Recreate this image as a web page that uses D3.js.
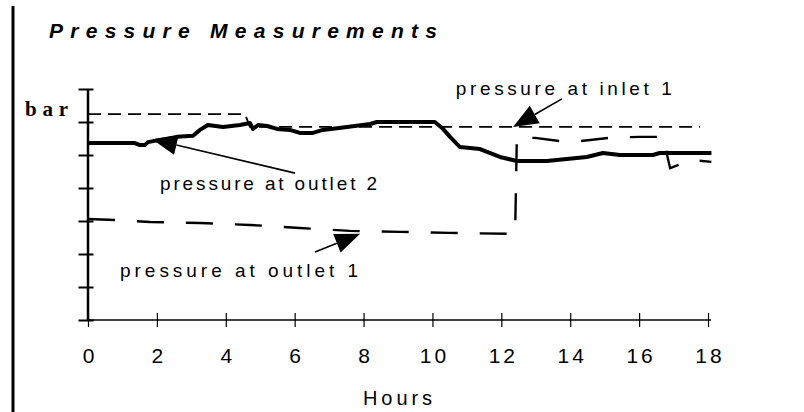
<!DOCTYPE html>
<html lang="en">
<head>
<meta charset="UTF-8">
<title>Pressure Measurements</title>
<script src="https://cdn.jsdelivr.net/npm/d3@7"></script>
<style>
    body{margin:0;background:#fff;}
    text{font-family:"Liberation Sans",Arial,sans-serif;fill:#000;}
</style>
</head>
<body>
<script>
    // readings taken off the chart (hours, bar)
    var outlet2Hours=[0,1.36,1.51,1.65,1.74,2.58,3.05,3.25,3.48,3.92,4.41,4.70,4.79,4.94,5.20,5.49,5.86,6.15,6.53,6.82,7.52,8.19,8.39,10.07,10.28,10.51,10.80,11.38,11.96,12.45,13.32,14.48,14.95,15.44,16.40,16.60,16.98,18.1];
    var outlet2Bar=[5.36,5.36,5.30,5.30,5.39,5.55,5.58,5.76,5.91,5.85,5.91,5.97,5.79,5.91,5.88,5.79,5.76,5.67,5.67,5.76,5.85,5.94,6.0,6.0,5.82,5.55,5.24,5.18,4.94,4.82,4.82,4.94,5.06,5.0,5.0,5.06,5.06,5.06];

    var outlet1Hours=[0,0.78,1.8,3.25,4.7,6.15,7.6,9.06,10.5,12.4,12.45,12.98,13.7,14.28,15.15,16.0,16.75,16.78,16.9,17.5,18.1];
    var outlet1Bar=[3.06,3.03,2.97,2.94,2.88,2.79,2.70,2.67,2.64,2.61,5.52,5.52,5.42,5.42,5.52,5.55,5.55,5.15,4.6,4.85,4.79];

    var inlet1Hours=[0,4.56,4.7,17.77];
    var inlet1Bar=[6.24,6.24,5.85,5.85];

    var xTicks=[0,2,4,6,8,10,12,14,16,18];
    var yTicks=[0,1,2,3,4,5,6,7];

    // annotation labels and their arrows (in hours / bar)
    var labelText=["pressure at inlet 1","pressure at outlet 2","pressure at outlet 1"];
    var labelHour=[10.68,2.09,0.93];
    var labelBar=[6.82,3.94,1.30];
    var arrowFromHour=[13.76,6.01,6.59];
    var arrowFromBar=[6.70,4.45,2.06];
    var arrowToHour=[12.34,1.86,7.9];
    var arrowToBar=[5.85,5.48,2.61];

    var width=804,height=412;
    var svg=d3.select("body").append("svg")
        .attr("width",width)
        .attr("height",height);

    var xScale=d3.scaleLinear().domain([0,18]).range([88,708]);
    var yScale=d3.scaleLinear().domain([0,7]).range([320,89]);

    // frame line on the left
    svg.append("line")
        .attr("x1",13).attr("x2",13)
        .attr("y1",6).attr("y2",height)
        .attr("stroke","#000").attr("stroke-width",3);

    // title
    svg.append("text")
        .attr("x",49).attr("y",38)
        .attr("textLength",388).attr("lengthAdjust","spacing")
        .style("font-size","21px").style("font-weight","bold").style("font-style","italic")
        .text("Pressure Measurements");

    //x axis
    var xAxis=d3.axisBottom(xScale).tickValues(xTicks).tickSize(7).tickSizeOuter(0).tickFormat(d3.format("d"));
    var gx=svg.append("g")
        .attr("transform","translate(0,320)")
        .call(xAxis);
    gx.select(".domain").attr("d","M88,0H711").attr("stroke-width",1.5);
    gx.selectAll(".tick line").attr("y1",-7).attr("stroke-width",1.2);
    gx.selectAll(".tick text")
        .attr("y",43).attr("dy",0)
        .style("font-size","21px").style("letter-spacing","3px")
        .attr("dx","1.5px");

    //y axis, ticks cross the line
    var yAxis=d3.axisLeft(yScale).tickValues(yTicks).tickSize(9).tickSizeOuter(0).tickFormat("");
    var gy=svg.append("g")
        .attr("transform","translate(87.5,0)")
        .call(yAxis);
    gy.select(".domain").attr("stroke-width",2.5);
    gy.selectAll(".tick line").attr("x1",6).attr("stroke-width",2);

    svg.append("text")
        .attr("x",25).attr("y",116)
        .attr("textLength",43).attr("lengthAdjust","spacing")
        .style("font-family","'Liberation Serif','Times New Roman',serif")
        .style("font-size","21px").style("font-weight","bold")
        .text("bar");

    svg.append("text")
        .attr("x",363).attr("y",405)
        .attr("textLength",69).attr("lengthAdjust","spacing")
        .style("font-size","20px")
        .text("Hours");

    var line=d3.line()
        .x(function(d){return xScale(d[0]);})
        .y(function(d){return yScale(d[1]);});

    // pressure at inlet 1 - short dashes
    svg.append("path")
        .datum(d3.zip(inlet1Hours,inlet1Bar))
        .attr("d",line)
        .attr("fill","none").attr("stroke","#000")
        .attr("stroke-width",1.8).attr("stroke-dasharray","13,7");

    // pressure at outlet 1 - long dashes
    svg.append("path")
        .datum(d3.zip(outlet1Hours,outlet1Bar))
        .attr("d",line)
        .attr("fill","none").attr("stroke","#000")
        .attr("stroke-width",2.4).attr("stroke-dasharray","27,22");

    // pressure at outlet 2 - solid
    svg.append("path")
        .datum(d3.zip(outlet2Hours,outlet2Bar))
        .attr("d",line)
        .attr("fill","none").attr("stroke","#000")
        .attr("stroke-width",4).attr("stroke-linejoin","round");

    // labels
    var labelWidth=[216,217,238];
    svg.selectAll(".lbl").data(labelText).enter().append("text")
        .attr("class","lbl")
        .attr("x",function(d,i){return xScale(labelHour[i]);})
        .attr("y",function(d,i){return yScale(labelBar[i]);})
        .attr("textLength",function(d,i){return labelWidth[i];})
        .attr("lengthAdjust","spacing")
        .style("font-size","19px")
        .text(function(d){return d;});

    // arrows
    var headLen=25,headHalf=10;
    labelText.forEach(function(d,i){
        var x0=xScale(arrowFromHour[i]),y0=yScale(arrowFromBar[i]);
        var x1=xScale(arrowToHour[i]),y1=yScale(arrowToBar[i]);
        var dx=x1-x0,dy=y1-y0,len=Math.sqrt(dx*dx+dy*dy);
        var ux=dx/len,uy=dy/len;
        var bx=x1-ux*headLen,by=y1-uy*headLen;
        svg.append("line")
            .attr("x1",x0).attr("y1",y0).attr("x2",bx).attr("y2",by)
            .attr("stroke","#000").attr("stroke-width",1.6);
        svg.append("path")
            .attr("d","M"+x1+","+y1+"L"+(bx-uy*headHalf)+","+(by+ux*headHalf)+"L"+(bx+uy*headHalf)+","+(by-ux*headHalf)+"Z")
            .attr("fill","#000");
    });
</script>
</body>
</html>
